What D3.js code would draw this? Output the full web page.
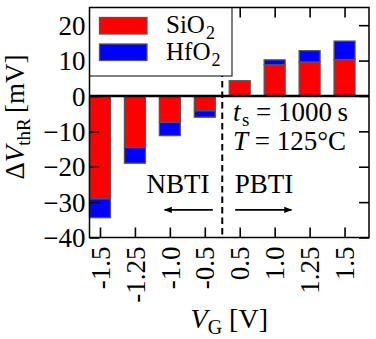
<!DOCTYPE html>
<html>
<head>
<meta charset="utf-8">
<script src="https://cdn.jsdelivr.net/npm/d3@7"></script>
<style>
  body { margin: 0; background: #fff; }
  text { font-family: "Liberation Serif", "Times New Roman", serif; fill: #000; }
</style>
</head>
<body>
<svg id="chart" width="376" height="339"></svg>
<script>
// gate voltages (one bar each) and the two stacked contributions in mV
const categories = ["-1.5", "-1.25", "-1.0", "-0.5", "0.5", "1.0", "1.25", "1.5"];
const sio2 = [-29.1, -14.6, -7.5, -4.2, 4.3, 8.8, 9.6, 10.3];
const hfo2 = [-5.3, -4.4, -3.7, -1.8, 0.0, 1.4, 3.2, 5.2];
const yTicks = [-40, -30, -20, -10, 0, 10, 20];

const svg = d3.select("#chart");
const pLeft = 89.5, pRight = 369, pTop = 7.5, pBottom = 237.5;
const fs = 27;

// x in bar-index units, like matplotlib bar positions
let x = d3.scaleLinear().domain([-0.3, 7.7]).range([pLeft, pRight]);
let y = d3.scaleLinear().domain([-40, 25]).range([pBottom, pTop]);
const barW = 0.6;

// stacked bars: red from 0, blue on top of red
let bars = svg.append("g");
categories.forEach(function(c, i) {
    let r0 = 0, r1 = sio2[i];
    let b0 = sio2[i], b1 = sio2[i] + hfo2[i];
    bars.append("rect")
        .attr("x", x(i - barW / 2))
        .attr("width", x(barW) - x(0))
        .attr("y", y(Math.max(r0, r1)))
        .attr("height", Math.abs(y(r0) - y(r1)))
        .attr("fill", "#ff0000")
        .attr("stroke", "#555")
        .attr("stroke-width", 1.3);
    if (hfo2[i] !== 0) {
        bars.append("rect")
            .attr("x", x(i - barW / 2))
            .attr("width", x(barW) - x(0))
            .attr("y", y(Math.max(b0, b1)))
            .attr("height", Math.abs(y(b0) - y(b1)))
            .attr("fill", "#0000ff")
            .attr("stroke", "#555")
            .attr("stroke-width", 1.3);
    }
});

// zero line
svg.append("line")
    .attr("x1", pLeft).attr("x2", pRight)
    .attr("y1", y(0)).attr("y2", y(0))
    .attr("stroke", "#000").attr("stroke-width", 2.5);

// NBTI / PBTI separator
svg.append("line")
    .attr("x1", x(3.5)).attr("x2", x(3.5))
    .attr("y1", pTop).attr("y2", pBottom)
    .attr("stroke", "#000").attr("stroke-width", 2)
    .attr("stroke-dasharray", "6.5,4");

// axes, ticks pointing inwards
let idx = d3.range(categories.length);
let axisL = d3.axisLeft(y).tickValues(yTicks).tickSize(-10).tickPadding(4)
    .tickFormat(d => d < 0 ? "\u2212" + Math.abs(d) : d);
let axisR = d3.axisRight(y).tickValues(yTicks).tickSize(-10).tickFormat("");
let axisB = d3.axisBottom(x).tickValues(idx).tickSize(-10).tickPadding(9)
    .tickFormat(i => categories[i]);
let axisT = d3.axisTop(x).tickValues(idx).tickSize(-10).tickFormat("");

let gL = svg.append("g").attr("transform", "translate(" + pLeft + ",0)").call(axisL);
let gR = svg.append("g").attr("transform", "translate(" + pRight + ",0)").call(axisR);
let gB = svg.append("g").attr("transform", "translate(0," + pBottom + ")").call(axisB);
let gT = svg.append("g").attr("transform", "translate(0," + pTop + ")").call(axisT);

[gL, gR, gB, gT].forEach(function(g) {
    g.select(".domain").remove();
    g.attr("font-family", "Liberation Serif");
    g.selectAll(".tick line").attr("stroke", "#000").attr("stroke-width", 1.6);
    g.selectAll("text").attr("font-family", "Liberation Serif").attr("font-size", fs).attr("fill", "#000");
});
gL.selectAll(".tick text").attr("dy", "0.34em");
gB.selectAll(".tick text")
    .attr("transform", "rotate(-90)")
    .attr("text-anchor", "end")
    .attr("x", -9).attr("y", 0)
    .attr("dy", "0.34em");

// legend
let leg = svg.append("g");
leg.append("rect")
    .attr("x", pLeft).attr("y", pTop)
    .attr("width", 232 - pLeft).attr("height", 76 - pTop)
    .attr("fill", "#fff").attr("stroke", "#000").attr("stroke-width", 1);
const legendNames = [["SiO", "2"], ["HfO", "2"]];
const legendColors = ["#ff0000", "#0000ff"];
legendNames.forEach(function(n, i) {
    let yy = 17.5 + i * 26.5;
    leg.append("rect")
        .attr("x", 99.5).attr("y", yy)
        .attr("width", 47.5).attr("height", 16.5)
        .attr("fill", legendColors[i]).attr("stroke", "#555").attr("stroke-width", 1.3);
    let t = leg.append("text").attr("x", 166).attr("y", yy + 15.5).attr("font-size", 25);
    t.append("tspan").text(n[0]);
    t.append("tspan").attr("font-size", 18).attr("dx", 1).attr("dy", 6).text(n[1]);
});

// frame
svg.append("rect")
    .attr("x", pLeft).attr("y", pTop)
    .attr("width", pRight - pLeft).attr("height", pBottom - pTop)
    .attr("fill", "none").attr("stroke", "#000").attr("stroke-width", 1.5);

// annotations
let ts = svg.append("text").attr("x", x(3.805)).attr("y", y(-7.1)).attr("font-size", fs);
ts.append("tspan").attr("font-style", "italic").text("t");
ts.append("tspan").attr("font-size", fs * 0.7).attr("dx", 1.5).attr("dy", 5).text("s");
ts.append("tspan").attr("dy", -5).text(" = 1000\u2009s");

let tt = svg.append("text").attr("x", x(3.805)).attr("y", y(-15.2)).attr("font-size", fs);
tt.append("tspan").attr("font-style", "italic").text("T");
tt.append("tspan").text(" = 125\u00b0C");

svg.append("text").attr("x", x(1.33)).attr("y", y(-27.4)).attr("font-size", fs).text("NBTI");
svg.append("text").attr("x", x(3.86)).attr("y", y(-27.4)).attr("font-size", fs).text("PBTI");

svg.append("defs").append("marker")
    .attr("id", "head").attr("viewBox", "0 0 10 10")
    .attr("refX", 9).attr("refY", 5)
    .attr("markerWidth", 5).attr("markerHeight", 5)
    .attr("markerUnits", "strokeWidth")
    .attr("orient", "auto")
    .append("path").attr("d", "M0,1 L10,5 L0,9 Z").attr("fill", "#000");

const arrows = [[3.23, 1.85], [3.87, 5.48]];
arrows.forEach(function(a) {
    svg.append("line")
        .attr("x1", x(a[0])).attr("x2", x(a[1]))
        .attr("y1", y(-32.2)).attr("y2", y(-32.2))
        .attr("stroke", "#000").attr("stroke-width", 1.6)
        .attr("marker-end", "url(#head)");
});

// axis labels
let yl = svg.append("text")
    .attr("transform", "translate(24,117) rotate(-90)")
    .attr("text-anchor", "middle").attr("font-size", fs);
yl.append("tspan").text("\u0394");
yl.append("tspan").attr("font-style", "italic").text("V");
yl.append("tspan").attr("font-size", fs * 0.7).attr("dy", 6).text("thR");
yl.append("tspan").attr("dy", -6).text("\u2009[mV]");

let xl = svg.append("text")
    .attr("x", (pLeft + pRight) / 2).attr("y", 328)
    .attr("text-anchor", "middle").attr("font-size", 28);
xl.append("tspan").attr("font-style", "italic").text("V");
xl.append("tspan").attr("font-size", 20).attr("dy", 6).text("G");
xl.append("tspan").attr("dy", -6).text(" [V]");
</script>
</body>
</html>
